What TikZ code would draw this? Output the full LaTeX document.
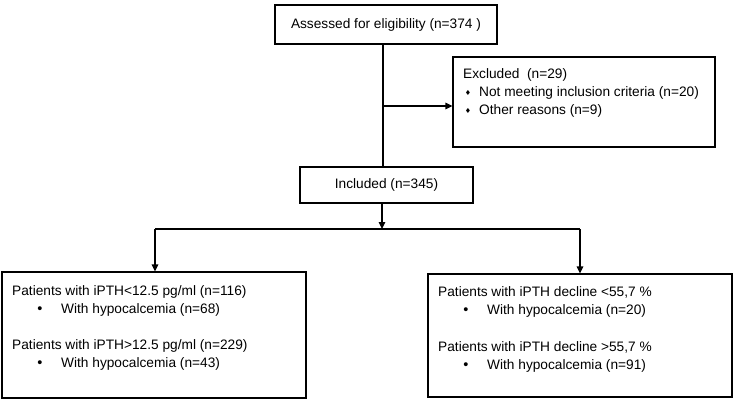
\documentclass[tikz,border=0pt]{standalone}
\usepackage{fontspec}
\setmainfont{Liberation Sans}
\newfontfamily\dejavu{DejaVu Sans}
\usetikzlibrary{arrows.meta}
\begin{document}
\begin{tikzpicture}[x=1bp,y=-1bp,
  box/.style={draw, line width=1.1bp, inner sep=0pt},
  txt/.style={anchor=west, inner sep=0pt, font=\fontsize{13.7bp}{16bp}\selectfont},
  ctxt/.style={inner sep=0pt, font=\fontsize{13.7bp}{16bp}\selectfont},
  dot/.style={inner sep=0pt, font=\fontsize{14.5bp}{16bp}\selectfont},
  dia/.style={inner sep=0pt, font=\dejavu\fontsize{7bp}{8bp}\selectfont},
  arr/.style={-{Triangle[length=7bp,width=6.5bp]}, line width=1.1bp},
  ln/.style={line width=1.1bp}]
\useasboundingbox (0,0) rectangle (734,400);
% boxes
\node[box, minimum width=222bp, minimum height=39bp] (assess) at (386,24.5) {};
\node[ctxt] (assesst) at (assess.center) {Assessed for eligibility (n=374 )};
\node[box, minimum width=262bp, minimum height=90bp] (excl) at (584,102) {};
\node[box, minimum width=173bp, minimum height=36bp] (incl) at (386.5,185) {};
\node[ctxt] (inclt) at (incl.center) {Included (n=345)};
\node[box, minimum width=304bp, minimum height=126bp] (left) at (154,335) {};
\node[box, minimum width=304bp, minimum height=123bp] (right) at (580,335.5) {};
% excluded text
\node[txt] (ex1) at (463,75) {Excluded\ \ (n=29)};
\node[dia] (exb1) at (468,93) {♦};
\node[txt] (ex2) at (479,93) {Not meeting inclusion criteria (n=20)};
\node[dia] (exb2) at (468,111) {♦};
\node[txt] (ex3) at (479,111) {Other reasons (n=9)};
% left text
\node[txt] (l1) at (12,292) {Patients with iPTH<12.5 pg/ml (n=116)};
\node[dot] (lb1) at (40,310) {•};
\node[txt] (l2) at (61,310) {With hypocalcemia (n=68)};
\node[txt] (l3) at (12,346) {Patients with iPTH>12.5 pg/ml (n=229)};
\node[dot] (lb2) at (40,364) {•};
\node[txt] (l4) at (61,364) {With hypocalcemia (n=43)};
% right text
\node[txt] (r1) at (438,292) {Patients with iPTH decline <55,7 \%};
\node[dot] (rb1) at (466,311) {•};
\node[txt] (r2) at (487,311) {With hypocalcemia (n=20)};
\node[txt] (r3) at (438,347) {Patients with iPTH decline >55,7 \%};
\node[dot] (rb2) at (466,366) {•};
\node[txt] (r4) at (487,366) {With hypocalcemia (n=91)};
% connectors
\coordinate (j) at (383,106);
\coordinate (split) at (382,229);
\coordinate (ls) at (155,229);
\coordinate (rs) at (580,229);
\draw[ln] (assess.south -| j) -- (incl.north -| j);
\draw[arr] (j) -- (j -| excl.west);
\draw[arr] (incl.south -| split) -- (split);
\draw[ln] (ls) -- (rs);
\draw[arr] (ls) -- (ls |- left.north);
\draw[arr] (rs) -- (rs |- right.north);
\end{tikzpicture}
\end{document}
